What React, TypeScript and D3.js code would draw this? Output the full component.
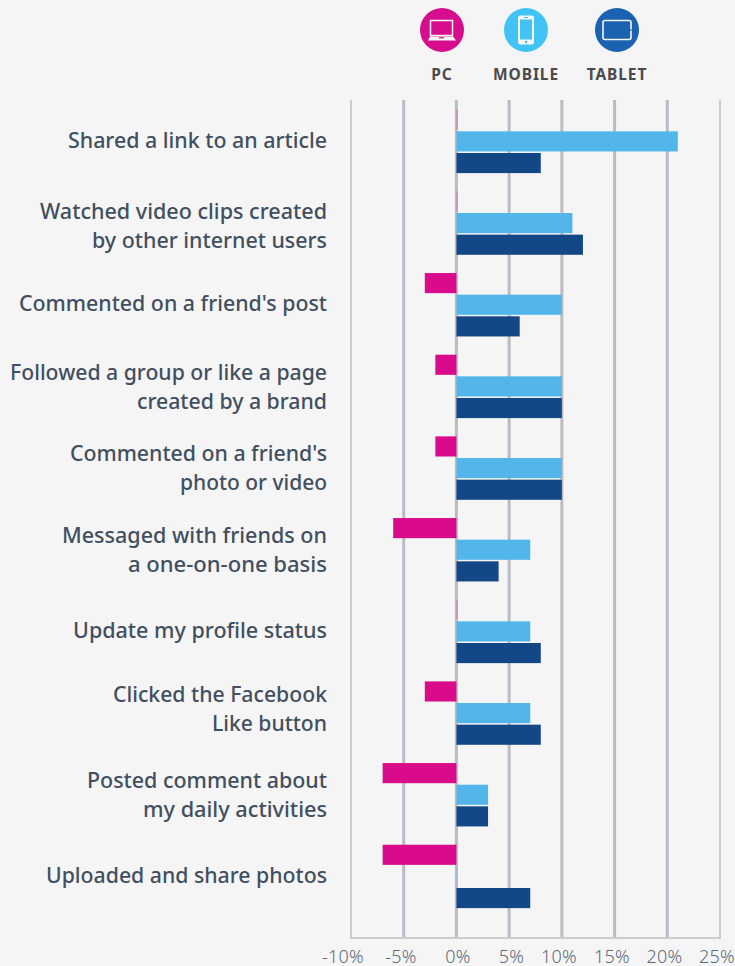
import React from "react";
import * as d3 from "d3";

const categories = [
  ["Shared a link to an article"],
  ["Watched video clips created", "by other internet users"],
  ["Commented on a friend's post"],
  ["Followed a group or like a page", "created by a brand"],
  ["Commented on a friend's", "photo or video"],
  ["Messaged with friends on", "a one-on-one basis"],
  ["Update my profile status"],
  ["Clicked the Facebook", "Like button"],
  ["Posted comment about", "my daily activities"],
  ["Uploaded and share photos"],
];
const pcValues = [0, 0, -3, -2, -2, -6, 0, -3, -7, -7];
const mobileValues = [21, 11, 10, 10, 10, 7, 7, 7, 3, 0];
const tabletValues = [8, 12, 6, 10, 10, 4, 8, 8, 3, 7];
const tickValues = [-10, -5, 0, 5, 10, 15, 20, 25];
const seriesNames = ["PC", "MOBILE", "TABLET"];
const seriesColors = ["#d90b8a", "#52b6ea", "#134785"];
const iconColors = ["#d60d8c", "#41c4f5", "#1b63b1"];
const labelCenters = [140, 225.5, 303, 386.5, 467.5, 549.5, 630, 708.5, 794.5, 875];
const lineStarts = [[68], [40, 92], [19], [10, 137], [70, 180], [62, 128], [73], [113, 212], [87, 143], [46]];
const tickCenters = [343, 401, 458, 511.5, 559, 612, 664.5, 717];

const FONT = "'Noto Sans', sans-serif";

function Icon({ kind, cx, color }: { kind: string; cx: number; color: string }) {
  const w = "#f5f5f5";
  return (
    <g transform={`translate(${cx},30)`}>
      <circle r={22} fill={color} />
      {kind === "PC" && (
        <g>
          <rect x={-11.5} y={-9.5} width={22} height={15} fill="none" stroke={w} strokeWidth={1.5} />
          <path d="M-12,6.5 L11,6.5 L14,10.5 L-14,10.5 Z" fill={w} />
          <rect x={-3} y={7.2} width={5} height={1.2} fill={color} />
        </g>
      )}
      {kind === "MOBILE" && (
        <g>
          <rect x={-8} y={-14.5} width={16} height={29} rx={2.5} fill={w} />
          <rect x={-6} y={-10.5} width={12} height={20} fill={color} />
          <circle cy={12} r={1.2} fill={color} />
          <rect x={-2} y={-13} width={4} height={1} fill={color} />
        </g>
      )}
      {kind === "TABLET" && (
        <g>
          <rect x={-14} y={-9.5} width={28} height={19} rx={2} fill="none" stroke={w} strokeWidth={1.6} />
          <rect x={12.5} y={-0.7} width={2} height={1.4} fill={color} />
        </g>
      )}
    </g>
  );
}

export default function App() {
  const x = d3.scaleLinear().domain([-10, 25]).range([351, 720]);
  const y = d3.scaleBand<number>().domain(d3.range(categories.length)).range([100.2, 916.9]);
  const inner = d3.scaleBand<number>().domain([0, 1, 2]).range([9.5, 72.9]).paddingInner(0.07);
  const series = [pcValues, mobileValues, tabletValues];
  return (
    <svg width={735} height={966} style={{ position: "absolute", left: 0, top: 0, background: "#f5f5f5" }}>
      <rect width={735} height={966} fill="#f5f5f5" />
      {seriesNames.map((n, i) => {
        const cx = [442, 526, 617][i];
        return (
          <g key={n}>
            <Icon kind={n} cx={cx} color={iconColors[i]} />
            <text x={cx} y={80} textAnchor="middle" fontFamily={FONT} fontWeight={700} fontSize={15.5} letterSpacing={0.9} fill="#4a4a4c">
              {n}
            </text>
          </g>
        );
      })}
      {tickValues.map((t) => (
        <line key={t} x1={x(t)} x2={x(t)} y1={100} y2={938} stroke={t === -10 || t === 25 ? "#cbcbd0" : "#bcbbc3"} strokeWidth={t === -10 || t === 25 ? 2 : 3} />
      ))}
      <line x1={350} x2={721} y1={938} y2={938} stroke="#cbcbd0" strokeWidth={2} />
      {tickValues.map((t, i) => (
        <text key={t} x={tickCenters[i]} y={963} textAnchor="middle" fontFamily={FONT} fontWeight={300} fontSize={18} letterSpacing={0.2} fill="#5c6b7b">
          {t < 0 ? `-${Math.abs(t)}%` : `${t}%`}
        </text>
      ))}
      {categories.map((lines, i) =>
        lines.map((line, j) => (
          <text
            key={line}
            x={327}
            y={labelCenters[i] + (j - (lines.length - 1) / 2) * 29 + 8}
            textAnchor="end"
            textLength={327 - lineStarts[i][j]}
            lengthAdjust="spacingAndGlyphs"
            fontFamily={FONT}
            fontWeight={500}
            fontSize={21.5}
            fill="#414f60"
          >
            {line}
          </text>
        ))
      )}
      {series.map((vals, s) =>
        vals.map((v, i) => {
          const x0 = x(Math.min(v, 0));
          const x1 = x(Math.max(v, 0));
          return (
            <rect
              key={`${s}-${i}`}
              x={v === 0 ? x(0) : x0}
              y={(y(i) as number) + (inner(s) as number)}
              width={v === 0 ? 1 : x1 - x0}
              height={inner.bandwidth()}
              fill={seriesColors[s]}
              opacity={v === 0 ? 0.35 : 1}
            />
          );
        })
      )}
    </svg>
  );
}
